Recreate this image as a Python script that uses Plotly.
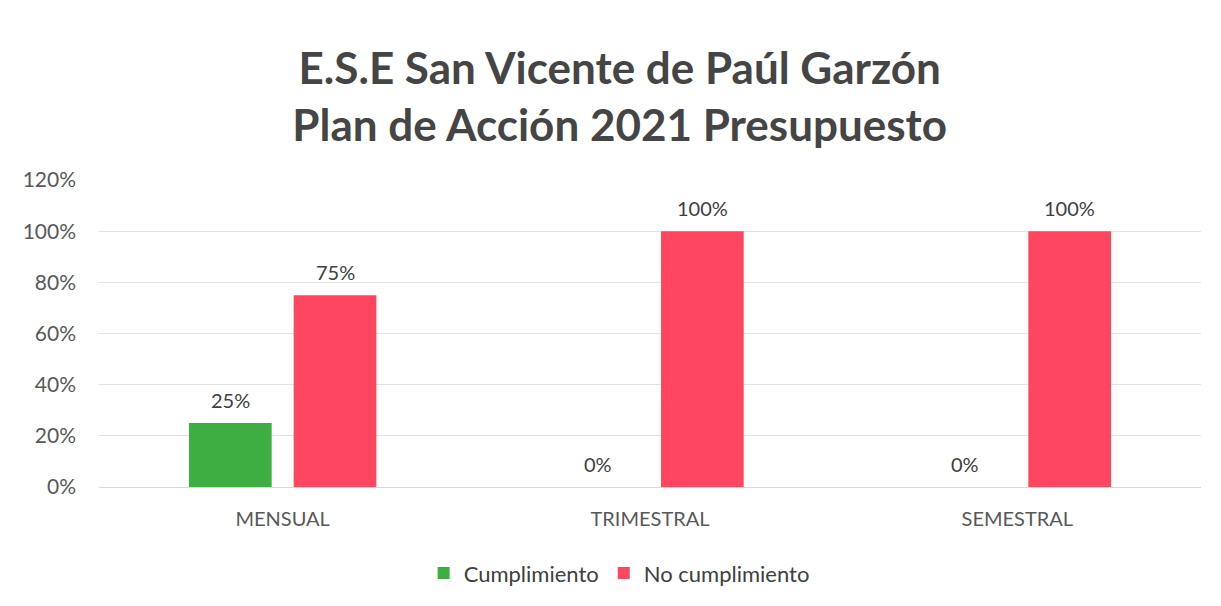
import plotly.graph_objects as go

categories = ["MENSUAL", "TRIMESTRAL", "SEMESTRAL"]
cumplimiento = [0.25, 0.0, 0.0]
no_cumplimiento = [0.75, 1.0, 1.0]
series_names = ["Cumplimiento", "No cumplimiento"]
title_lines = ["E.S.E San Vicente de Paúl Garzón", "Plan de Acción 2021 Presupuesto"]

green = "#3DAE41"
red = "#FF4660"
font_family = "Lato, 'Open Sans', sans-serif"

fig = go.Figure()
series = [cumplimiento, no_cumplimiento]
colors = [green, red]
for name, vals, col in zip(series_names, series, colors):
    fig.add_trace(go.Bar(
        x=categories, y=vals, name=name,
        marker=dict(color=col, line=dict(width=0)),
        hoverinfo="x+y+name",
    ))

# data labels above each bar (half a bar slot left/right of the category centre)
slot_shift = [-52.5, 52.5]
annotations = []
for vals, xs in zip(series, slot_shift):
    for c, v in zip(categories, vals):
        annotations.append(dict(
            x=c, y=v, xref="x", yref="y", text=f"{v:.0%}",
            showarrow=False, xshift=xs, yshift=23,
            xanchor="center", yanchor="middle",
            font=dict(size=20, color="#404040", family=font_family),
        ))

fig.update_layout(
    width=1221, height=606,
    paper_bgcolor="white", plot_bgcolor="white",
    margin=dict(l=91, r=28, t=172, b=127),
    barmode="group", bargap=0.43, bargroupgap=0.21,
    title=dict(
        text="<br>".join(title_lines),
        x=0.501, xanchor="center", y=0.875, yanchor="middle",
        font=dict(size=44, color="#454545", family=font_family, weight="bold"),
    ),
    font=dict(family=font_family),
    showlegend=True,
    legend=dict(
        orientation="h", x=0.472, xanchor="center", y=-0.281, yanchor="middle",
        font=dict(size=22, color="#404040", family=font_family),
        traceorder="normal",
    ),
    annotations=annotations,
    xaxis=dict(
        showgrid=False, showline=False, zeroline=False, ticks="",
        ticklabelstandoff=18,
        tickfont=dict(size=20, color="#595959", family=font_family),
    ),
    yaxis=dict(
        range=[0, 1.2], dtick=0.2, tickformat=".0%",
        showgrid=True, gridcolor="#E3E3E3", gridwidth=1,
        zeroline=True, zerolinecolor="#D9D9D9", zerolinewidth=1,
        showline=False, ticks="", ticklabelstandoff=22,
        tickfont=dict(size=21, color="#595959", family=font_family),
    ),
)

fig.write_html("out.html")
